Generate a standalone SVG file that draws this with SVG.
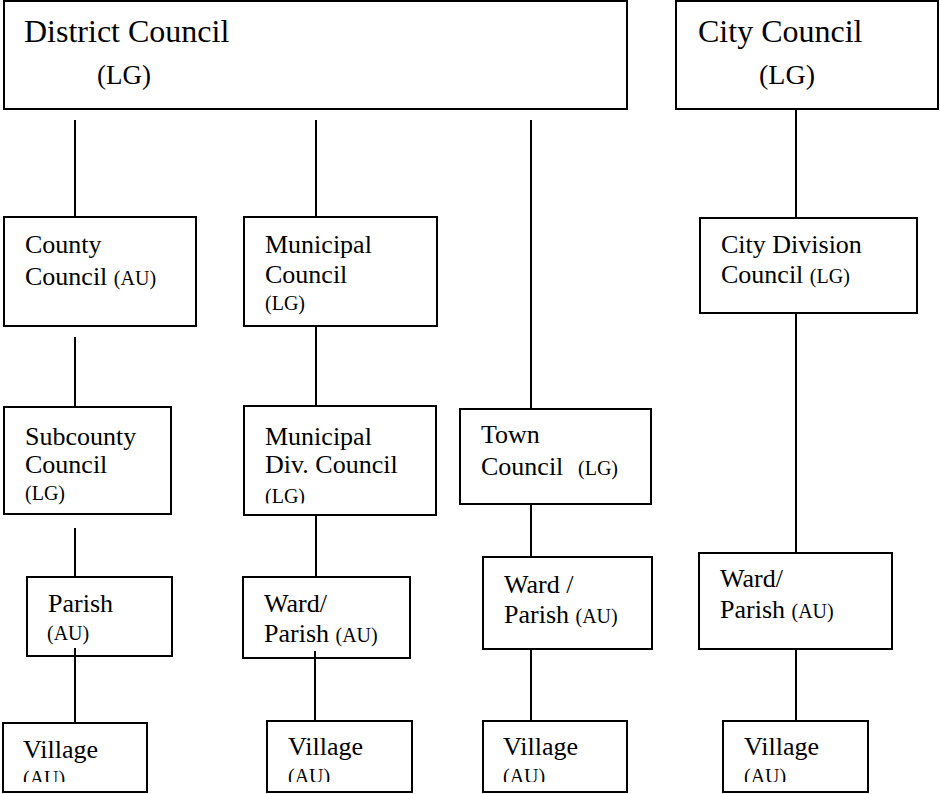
<svg xmlns="http://www.w3.org/2000/svg" width="940" height="794" viewBox="0 0 940 794">
<style>
.box{fill:#fff;stroke:#000;stroke-width:2}
.t{font-family:"Liberation Serif","Times New Roman",serif;font-size:26px;fill:#000}
.big{font-size:32px}
.s{font-size:20px}
.conn line{stroke:#000;stroke-width:2}
</style>
<defs>
<clipPath id="clipMD"><rect x="244" y="406" width="192" height="97.5"/></clipPath>
<clipPath id="clipV"><rect x="0" y="700" width="940" height="82"/></clipPath>
</defs>
<rect width="940" height="794" fill="#fff"/>
<g id="district"><rect class="box" x="4" y="1" width="623" height="108"/><text class="t big" x="24" y="42">District Council</text><text class="t" style="font-size:27px" x="97" y="84">(LG)</text></g>
<g id="city"><rect class="box" x="676" y="1" width="262" height="108"/><text class="t big" x="698" y="42">City Council</text><text class="t" style="font-size:28px" x="759" y="84">(LG)</text></g>
<g id="county"><rect class="box" x="4" y="217" width="192" height="109"/><text class="t" x="25" y="253">County</text><text class="t" x="25" y="285">Council <tspan class="s">(AU)</tspan></text></g>
<g id="municipal"><rect class="box" x="244" y="217" width="193" height="109"/><text class="t" x="265" y="253">Municipal</text><text class="t" x="265" y="283">Council</text><text class="t s" x="265" y="310">(LG)</text></g>
<g id="citydiv"><rect class="box" x="700" y="218" width="217" height="95"/><text class="t" x="721" y="253">City Division</text><text class="t" x="721" y="283">Council <tspan class="s">(LG)</tspan></text></g>
<g id="town"><rect class="box" x="460" y="409" width="191" height="95"/><text class="t" x="481" y="443">Town</text><text class="t" x="481" y="475">Council</text><text class="t s" x="578" y="475">(LG)</text></g>
<g id="subcounty"><rect class="box" x="4" y="407" width="167" height="107"/><text class="t" x="25" y="445">Subcounty</text><text class="t" x="25" y="473">Council</text><text class="t s" x="25" y="500">(LG)</text></g>
<g id="munidiv"><rect class="box" x="244" y="406" width="192" height="109"/><text class="t" x="265" y="445">Municipal</text><text class="t" x="265" y="473">Div. Council</text><text class="t s" x="265" y="502.5" clip-path="url(#clipMD)">(LG)</text></g>
<g id="parish1"><rect class="box" x="27" y="577" width="145" height="79"/><text class="t" x="48" y="612">Parish</text><text class="t s" x="47" y="640">(AU)</text></g>
<g id="ward2"><rect class="box" x="243" y="577" width="167" height="81"/><text class="t" x="264" y="612">Ward/</text><text class="t" x="264" y="642">Parish <tspan class="s">(AU)</tspan></text></g>
<g id="ward3"><rect class="box" x="483" y="557" width="169" height="92"/><text class="t" x="504" y="593">Ward /</text><text class="t" x="504" y="623">Parish <tspan class="s">(AU)</tspan></text></g>
<g id="ward4"><rect class="box" x="699" y="553" width="193" height="96"/><text class="t" x="720" y="587">Ward/</text><text class="t" x="720" y="618">Parish <tspan class="s">(AU)</tspan></text></g>
<g id="village1"><rect class="box" x="3" y="723" width="144" height="69"/><text class="t" x="23" y="758">Village</text><text class="t s" x="23" y="785" clip-path="url(#clipV)">(AU)</text></g>
<g id="village2"><rect class="box" x="267" y="721" width="145" height="71"/><text class="t" x="288" y="755">Village</text><text class="t s" x="288" y="783" clip-path="url(#clipV)">(AU)</text></g>
<g id="village3"><rect class="box" x="483" y="721" width="144" height="71"/><text class="t" x="503" y="755">Village</text><text class="t s" x="503" y="783" clip-path="url(#clipV)">(AU)</text></g>
<g id="village4"><rect class="box" x="723" y="721" width="145" height="71"/><text class="t" x="744" y="755">Village</text><text class="t s" x="744" y="783" clip-path="url(#clipV)">(AU)</text></g>
<g id="connectors" class="conn">
<line x1="75" y1="120" x2="75" y2="217"/>
<line x1="316" y1="120" x2="316" y2="217"/>
<line x1="531" y1="120" x2="531" y2="409"/>
<line x1="796" y1="110" x2="796" y2="218"/>
<line x1="75" y1="337" x2="75" y2="407"/>
<line x1="316" y1="326" x2="316" y2="406"/>
<line x1="796" y1="313" x2="796" y2="553"/>
<line x1="75" y1="528" x2="75" y2="577"/>
<line x1="316" y1="515" x2="316" y2="577"/>
<line x1="531" y1="504" x2="531" y2="557"/>
<line x1="75" y1="648" x2="75" y2="723"/>
<line x1="315" y1="651" x2="315" y2="721"/>
<line x1="531" y1="649" x2="531" y2="721"/>
<line x1="796" y1="649" x2="796" y2="721"/>
</g>
</svg>
